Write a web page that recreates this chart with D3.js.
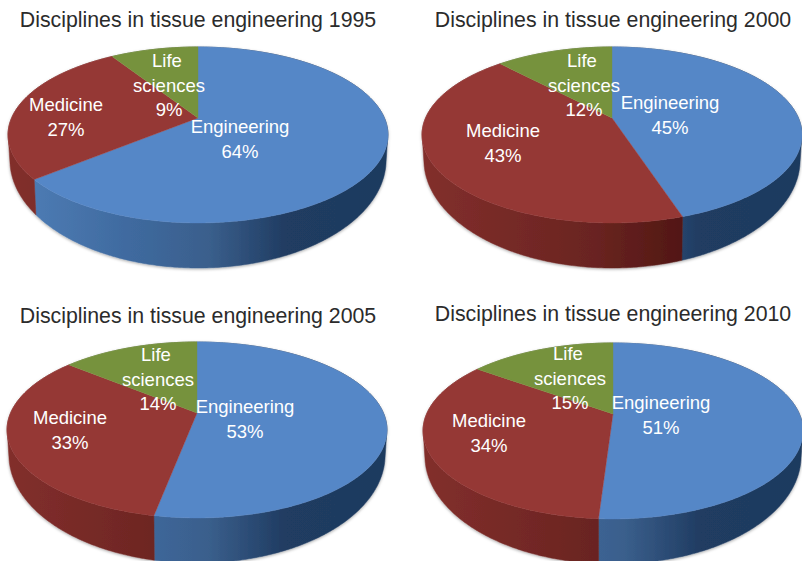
<!DOCTYPE html>
<html><head><meta charset="utf-8">
<script src="https://cdnjs.cloudflare.com/ajax/libs/d3/7.8.5/d3.min.js"></script>
<style>html,body{margin:0;padding:0;background:#fff;overflow:hidden}svg{display:block}</style>
</head><body><svg id="c" width="802" height="561"></svg>
<script>
const categories = ["Engineering", "Medicine", "Life sciences"];
const years = [1995, 2000, 2005, 2010];
const engineering = [64, 45, 53, 51];
const medicine = [27, 43, 33, 34];
const lifeSciences = [9, 12, 14, 15];
const titlePrefix = "Disciplines in tissue engineering ";

// layout only
const apexes = [[198,118],[612,118],[197,413],[613,414]];
const titlePos = [[198,27],[613,27],[198,323],[613,321]];
const labelPos = [
  [[240,133],[66,111],[169,67]],
  [[670,109],[503,137],[584,67]],
  [[245,413],[70,424],[158,361]],
  [[661,409],[489,427],[570,360]]
];
const lineGap = 24.5;
const topColors = ["#5587c7","#953735","#76923c"];
const sideStops = [
  [[0,"#507fb8"],[0.32,"#3f6a9f"],[0.53,"#3a5f8c"],[0.73,"#203c62"],[1,"#1e3a5f"]],
  [[0,"#822f2c"],[0.45,"#6a2421"],[0.72,"#4e1512"],[1,"#4e1512"]],
  [[0,"#5f7a30"],[0.45,"#506a28"],[0.75,"#3a4e1c"],[1,"#3a4e1c"]]
];

const svg = d3.select("#c");
svg.append("rect").attr("width",802).attr("height",561).attr("fill","#fff");
const defs = svg.append("defs");
defs.append("filter").attr("id","soft").attr("x","-5%").attr("y","-5%").attr("width","110%").attr("height","110%")
  .append("feGaussianBlur").attr("stdDeviation",0.6);
const wf = defs.append("filter").attr("id","wallSoft").attr("x","-5%").attr("y","-5%").attr("width","110%").attr("height","120%");
wf.append("feDropShadow").attr("dx",0).attr("dy",1).attr("stdDeviation",1.4)
  .attr("flood-color","#000").attr("flood-opacity",0.35);

// Perspective projection of the flat pie onto the tilted disc.
const A = 186.4, B = 84.7, P = 0.193;
const FACE_CY = 17, RX = 190, WALL_CY = 42, WALL_RY = 108;
function project(ang) {
  const u = Math.sin(ang), v = -Math.cos(ang), w = 1 - P*v;
  return [A*u/w, B*v/w];
}
// Lower rim of the wall, under a given point of the face rim.
function lower(pt) {
  if (pt[1] < FACE_CY) return pt;
  const k = Math.min(1, Math.abs(pt[0])/RX);
  return [pt[0]*0.99, WALL_CY + WALL_RY*Math.sqrt(1 - k*k)];
}
const pie = d3.pie().sort(null).value(d => d);
const line = d3.line();
function samples(a0, a1) {
  const n = Math.max(2, Math.ceil((a1-a0)/0.01));
  return d3.range(n+1).map(i => a0 + (a1-a0)*i/n);
}

years.forEach((yr, pi) => {
  const vals = [engineering[pi], medicine[pi], lifeSciences[pi]];
  const [ax, ay] = apexes[pi];
  const g = svg.append("g").attr("transform",`translate(${ax},${ay})`);
  const walls = g.append("g").attr("filter","url(#wallSoft)");
  const faces = g.append("g").attr("filter","url(#soft)");
  const arcs = pie(vals);

  categories.forEach((c, i) => {
    const grad = defs.append("linearGradient").attr("id",`side${pi}_${i}`)
      .attr("gradientUnits","userSpaceOnUse")
      .attr("x1",-190).attr("x2",190).attr("y1",0).attr("y2",0);
    sideStops[i].forEach(s => grad.append("stop").attr("offset",s[0]).attr("stop-color",s[1]));
  });

  walls.selectAll("path").data(arcs).join("path")
    .attr("d", d => {
      const top = samples(d.startAngle, d.endAngle).map(project);
      const pts = top.concat(top.slice().reverse().map(lower));
      return line(pts) + "Z";
    })
    .attr("fill",(d,i) => `url(#side${pi}_${i})`)
    .attr("stroke",(d,i) => `url(#side${pi}_${i})`).attr("stroke-width",0.5);

  faces.selectAll("path").data(arcs).join("path")
    .attr("d", d => line([[0,0]].concat(samples(d.startAngle, d.endAngle).map(project))) + "Z")
    .attr("fill",(d,i) => topColors[i])
    .attr("stroke",(d,i) => topColors[i]).attr("stroke-width",0.4);

  categories.forEach((c, i) => {
    const words = c === "Life sciences" ? ["Life","sciences"] : [c];
    const rows = words.concat([vals[i] + "%"]);
    const [lx, ly] = labelPos[pi][i];
    svg.append("g").selectAll("text").data(rows).join("text")
      .attr("x",d => d === "Life" ? lx - 2 : lx).attr("y",(d,k) => ly + k*lineGap)
      .attr("text-anchor","middle")
      .attr("font-family","'Liberation Sans',Arial,sans-serif")
      .attr("font-size",18.5).attr("fill","#fff")
      .text(d => d);
  });

  svg.append("text").attr("x",titlePos[pi][0]).attr("y",titlePos[pi][1])
    .attr("text-anchor","middle")
    .attr("font-family","'Liberation Sans',Arial,sans-serif")
    .attr("font-size",21.3).attr("fill","#2b2b2b")
    .text(titlePrefix + yr);
});
</script></body></html>
